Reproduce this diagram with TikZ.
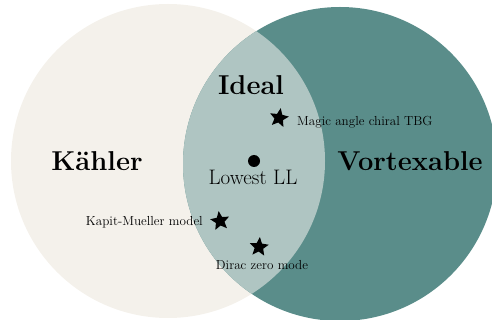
\documentclass[tikz,border=0pt]{standalone}
\usetikzlibrary{shapes.geometric}
\definecolor{kahlercol}{RGB}{244,241,235}
\definecolor{vortcol}{RGB}{90,141,138}
\definecolor{idealcol}{RGB}{175,197,194}
\tikzset{
  bigtitle/.style={font=\fontsize{27.3}{32}\selectfont\bfseries, inner sep=0pt},
  midlabel/.style={font=\fontsize{21}{25}\selectfont, inner sep=0pt},
  smalllabel/.style={font=\fontsize{13.1}{15}\selectfont, inner sep=0pt},
  starmark/.style={star, star points=5, star point ratio=2.2, fill=black, draw=none, minimum size=20pt, inner sep=0pt}
}
\begin{document}
\begin{tikzpicture}[x=1pt,y=-1pt]
\useasboundingbox (0,0) rectangle (492,320);
\begin{scope}
\clip (0,0) rectangle (492,320);
\fill[kahlercol] (168,161) circle (157);
\fill[vortcol] (340,164) circle (157);
\begin{scope}
\clip (168,161) circle (157);
\fill[idealcol] (340,164) circle (157);
\end{scope}
\end{scope}
\node[bigtitle] (kahler) at (97,161) {K\"ahler};
\node[bigtitle] (ideal) at (251,85) {Ideal};
\node[bigtitle] (vort) at (410,161) {Vortexable};
\fill[black] (254,161) circle (6);
\node[midlabel] (lll) at (253,177) {Lowest LL};
\node[starmark, rotate=-10] (s1) at (279,118) {};
\node[smalllabel, anchor=west] (l1) at (297,122) {Magic angle chiral TBG};
\node[starmark, rotate=8] (s2) at (220,221) {};
\node[smalllabel, anchor=east] (l2) at (203,222) {Kapit-Mueller model};
\node[starmark, rotate=-5] (s3) at (259,247) {};
\node[smalllabel] (l3) at (262,265) {Dirac zero mode};
\end{tikzpicture}
\end{document}
